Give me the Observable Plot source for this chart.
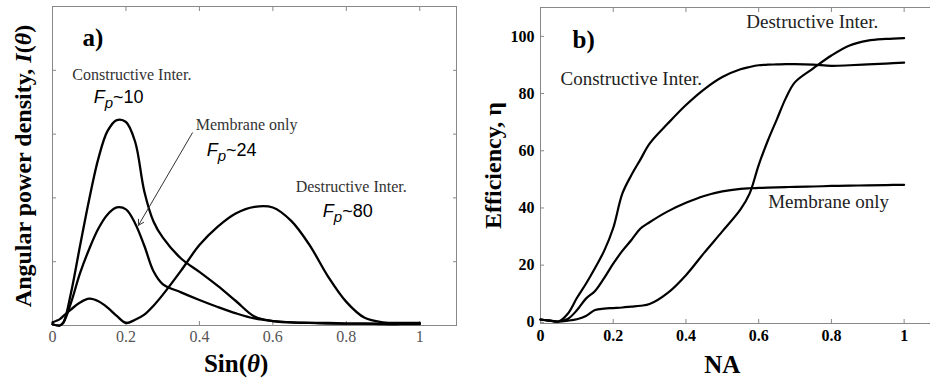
<!DOCTYPE html>
<html><head><meta charset="utf-8">
<script src="https://cdn.jsdelivr.net/npm/d3@7"></script>
<script src="https://cdn.jsdelivr.net/npm/@observablehq/plot@0.6"></script>
<style>
body{margin:0;background:#fff;}
#wrap{width:930px;height:381px;overflow:hidden;display:flex;background:#fff;}
#a{flex:none;width:470px;overflow:hidden;}
#b{flex:none;width:460px;overflow:hidden;}
#wrap svg{display:block;max-width:none !important;width:470px !important;height:381px !important;}
</style></head><body><div id="wrap"><div id="a"></div><div id="b"></div></div>
<script>
// ---------- Panel a: angular power density vs sin(theta) ----------
const xA = [0, 0.02, 0.03, 0.05, 0.075, 0.1, 0.125, 0.15, 0.175, 0.2, 0.225, 0.25, 0.275, 0.3, 0.35, 0.4, 0.45, 0.5, 0.55, 0.6, 0.65, 0.7, 0.75, 0.8, 0.85, 0.9, 0.95, 1];
const aConstructive = [0.02,0,0.05,0.5,1.25,1.98,2.62,3.05,3.22,3.19,2.88,2.1,1.63,1.38,1.05,0.84,0.62,0.38,0.14,0.07,0.05,0.04,0.04,0.03,0.03,0.03,0.03,0.03];
const aMembrane = [0.02,0,0.05,0.35,0.82,1.2,1.52,1.74,1.85,1.82,1.6,1.25,0.85,0.65,0.52,0.4,0.29,0.19,0.11,0.07,0.05,0.04,0.03,0.03,0.03,0.02,0.02,0.02];
const aDestructive = [0.05,0.1,0.15,0.25,0.36,0.42,0.38,0.28,0.15,0.04,0.09,0.17,0.31,0.48,0.86,1.26,1.55,1.76,1.86,1.85,1.64,1.26,0.77,0.37,0.12,0.05,0.04,0.04];
const xTicksA = [0, 0.2, 0.4, 0.6, 0.8, 1];
const yTicksA = [1, 2, 3, 4];

// ---------- Panel b: efficiency vs NA ----------
const xB = [0, 0.025, 0.05, 0.075, 0.1, 0.125, 0.15, 0.175, 0.2, 0.225, 0.25, 0.275, 0.3, 0.35, 0.4, 0.45, 0.5, 0.55, 0.575, 0.6, 0.625, 0.65, 0.675, 0.7, 0.75, 0.8, 0.85, 0.9, 0.95, 1];
const bConstructive = [1.0,0.6,0.3,3,8.5,13.5,19,25,33,45,51.5,57,62.5,69.5,76,81.5,85.8,88.5,89.3,89.9,90.1,90.2,90.3,90.3,90.1,89.7,89.9,90.2,90.5,90.8];
const bMembrane = [1,0.6,0.3,1.2,4.2,8.3,11,15.5,20.5,25,28.8,32.8,35,38.8,41.8,44.2,45.8,46.7,46.9,47,47.1,47.2,47.3,47.4,47.5,47.7,47.8,47.9,48,48.1];
const bDestructive = [1,0.6,0.3,0.6,1.1,2.2,4.3,4.8,5.0,5.2,5.5,5.8,6.4,10.3,16.5,24.3,31.8,39.5,45,55,63.5,71,78.5,84,88.8,93.3,96.8,98.5,99.1,99.4];
const xTicksB = [0, 0.2, 0.4, 0.6, 0.8, 1];
const yTicksB = [0, 20, 40, 60, 80, 100];

// annotation texts
const annA = [
  {x: 0.054, y: 3.93, t: "Constructive Inter."},
  {x: 0.39, y: 3.15, t: "Membrane only"},
  {x: 0.662, y: 2.18, t: "Destructive Inter."}
];
const fpA = [
  {x: 0.112, y: 3.57, t: "Fp~10"},
  {x: 0.42, y: 2.74, t: "Fp~24"},
  {x: 0.736, y: 1.79, t: "Fp~80"}
];
const arrowA = [{x1: 0.381, y1: 3.02, x2: 0.234, y2: 1.57}];
const annB = [
  {x: 0.566, y: 104.9, t: "Destructive Inter."},
  {x: 0.055, y: 85, t: "Constructive Inter."},
  {x: 0.626, y: 42, t: "Membrane only"}
];

const serif = "'Liberation Serif','Times New Roman',serif";
const sans = "'Liberation Sans',Arial,sans-serif";
const rows = (xs, ys, s) => xs.map((x, i) => ({x, y: ys[i], s}));
const dataA = [...rows(xA, aConstructive, "c"), ...rows(xA, aMembrane, "m"), ...rows(xA, aDestructive, "d")];
const dataB = [...rows(xB, bConstructive, "c"), ...rows(xB, bMembrane, "m"), ...rows(xB, bDestructive, "d")];
const fmt = d => String(d);
const blank = () => "";

const chartA = Plot.plot({
  width: 470, height: 381,
  marginLeft: 52, marginRight: 14, marginTop: 6, marginBottom: 56,
  style: {fontFamily: serif, background: "white"},
  x: {domain: [0, 1.1]},
  y: {domain: [0, 5]},
  marks: [
    Plot.frame({stroke: "#888"}),
    Plot.axisX({anchor: "bottom", ticks: xTicksA, tickSize: 0, tickPadding: 5, tickFormat: fmt, fontSize: 16, fill: "#555", label: null}),
    Plot.axisX({anchor: "bottom", ticks: xTicksA, tickSize: 4, dy: -4, tickFormat: blank, stroke: "#888", label: null}),
    Plot.axisX({anchor: "top", ticks: xTicksA, tickSize: 4, dy: 4, tickFormat: blank, stroke: "#888", label: null}),
    Plot.axisY({anchor: "left", ticks: yTicksA, tickSize: 4, dx: 4, tickFormat: blank, stroke: "#888", label: null}),
    Plot.axisY({anchor: "right", ticks: yTicksA, tickSize: 4, dx: -4, tickFormat: blank, stroke: "#888", label: null}),
    Plot.line(dataA, {x: "x", y: "y", z: "s", stroke: "black", strokeWidth: 2.3, curve: "catmull-rom"}),
    Plot.arrow(arrowA, {x1: "x1", y1: "y1", x2: "x2", y2: "y2", stroke: "#333", strokeWidth: 1, headLength: 9}),
    Plot.text(annA, {x: "x", y: "y", text: "t", textAnchor: "start", fontSize: 16, fill: "#333", fontFamily: serif}),
    Plot.text(fpA, {x: "x", y: "y", text: "t", textAnchor: "start", fontSize: 18, fill: "black", fontFamily: sans}),
    Plot.text([{x: 0.082, y: 4.51, t: "a)"}], {x: "x", y: "y", text: "t", textAnchor: "start", fontSize: 25, fontWeight: "bold"}),
    Plot.text([{x: 0.5, t: "Sin(θ)"}], {x: "x", text: "t", frameAnchor: "bottom", lineAnchor: "middle", dy: 38, fontSize: 25, fontWeight: "bold"}),
    Plot.text([{t: "Angular power density, I(θ)"}], {text: "t", frameAnchor: "left", textAnchor: "middle", lineAnchor: "middle", dx: -29, rotate: -90, fontSize: 24, fontWeight: "bold"})
  ]
});

const chartB = Plot.plot({
  width: 470, height: 381,
  marginLeft: 70, marginRight: 0, marginTop: 7, marginBottom: 58,
  style: {fontFamily: serif, background: "white"},
  x: {domain: [0, 1.1]},
  y: {domain: [-0.4, 110.1]},
  marks: [
    Plot.frame({stroke: "#888"}),
    Plot.axisX({anchor: "bottom", ticks: xTicksB, tickSize: 0, tickPadding: 6, tickFormat: fmt, fontSize: 16, fontWeight: "bold", fill: "black", label: null}),
    Plot.axisX({anchor: "bottom", ticks: xTicksB, tickSize: 4, dy: -4, tickFormat: blank, stroke: "#888", label: null}),
    Plot.axisX({anchor: "top", ticks: xTicksB, tickSize: 4, dy: 4, tickFormat: blank, stroke: "#888", label: null}),
    Plot.axisY({anchor: "left", ticks: yTicksB, tickSize: 0, tickPadding: 6, tickFormat: fmt, fontSize: 16, fontWeight: "bold", fill: "black", label: null}),
    Plot.axisY({anchor: "left", ticks: yTicksB, tickSize: 4, dx: 4, tickFormat: blank, stroke: "#888", label: null}),
    Plot.line(dataB, {x: "x", y: "y", z: "s", stroke: "black", strokeWidth: 2.2, curve: "catmull-rom"}),
    Plot.text(annB, {x: "x", y: "y", text: "t", textAnchor: "start", fontSize: 19, fill: "#222", fontFamily: serif}),
    Plot.text([{x: 0.088, y: 98.8, t: "b)"}], {x: "x", y: "y", text: "t", textAnchor: "start", fontSize: 25, fontWeight: "bold"}),
    Plot.text([{x: 0.5, t: "NA"}], {x: "x", text: "t", frameAnchor: "bottom", lineAnchor: "middle", dy: 41, fontSize: 25, fontWeight: "bold"}),
    Plot.text([{t: "Efficiency, η"}], {text: "t", frameAnchor: "left", textAnchor: "middle", lineAnchor: "middle", dx: -47, rotate: -90, fontSize: 24, fontWeight: "bold"})
  ]
});

function fixText(svg) {
  svg.querySelectorAll("text").forEach(el => {
    if (el.querySelector("tspan")) return;
    const s = el.textContent;
    if (s === "Sin(θ)") el.innerHTML = 'Sin(<tspan font-style="italic">θ</tspan>)';
    else if (s === "Angular power density, I(θ)") el.innerHTML = 'Angular power density, <tspan font-style="italic">I</tspan>(<tspan font-style="italic">θ</tspan>)';
    else {
      const m = s.match(/^Fp~(\d+)$/);
      if (m) el.innerHTML = '<tspan font-style="italic">F</tspan><tspan font-style="italic" font-size="15" dy="5">p</tspan><tspan dy="-5">~' + m[1] + '</tspan>';
    }
  });
}
fixText(chartA);
fixText(chartB);
document.getElementById("a").appendChild(chartA);
document.getElementById("b").appendChild(chartB);
</script></body></html>
